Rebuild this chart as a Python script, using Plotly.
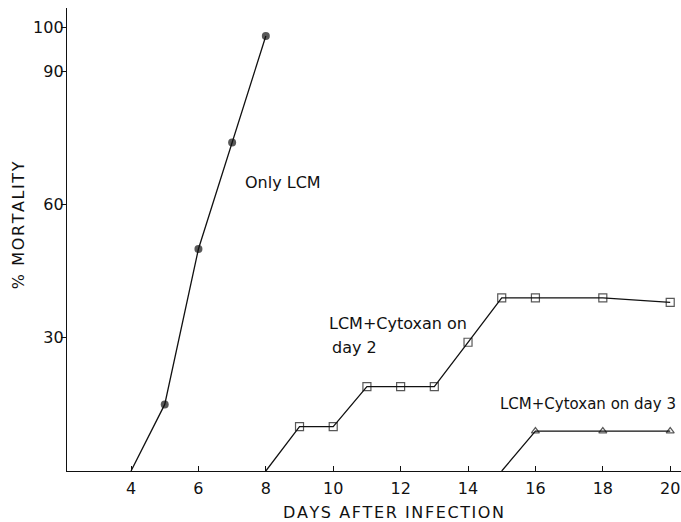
import plotly.graph_objects as go

# Data
days_lcm = [4, 5, 6, 7, 8]
mort_lcm = [0, 15, 50, 74, 98]

days_cy2 = [8, 9, 10, 11, 12, 13, 14, 15, 16, 18, 20]
mort_cy2 = [0, 10, 10, 19, 19, 19, 29, 39, 39, 39, 38]

days_cy3 = [15, 16, 18, 20]
mort_cy3 = [0, 9, 9, 9]

x_ticks = [4, 6, 8, 10, 12, 14, 16, 18, 20]
y_ticks = [30, 60, 90, 100]

FONT = "DejaVu Sans"
INK = "#111111"
HS = "\u200a"


def spaced(s):
    return HS.join(list(s))


fig = go.Figure()

fig.add_trace(go.Scatter(
    x=days_lcm, y=mort_lcm, mode="lines+markers",
    line=dict(color=INK, width=1.3),
    marker=dict(symbol="circle", size=[0] + [8] * (len(days_lcm) - 1), color=INK,
                line=dict(color=INK, width=0)),
    cliponaxis=False, showlegend=False))

fig.add_trace(go.Scatter(
    x=days_cy2, y=mort_cy2, mode="lines+markers",
    line=dict(color=INK, width=1.3),
    marker=dict(symbol="square-open", size=[0] + [8] * (len(days_cy2) - 1),
                color=INK, line=dict(color=INK, width=1.2)),
    cliponaxis=False, showlegend=False))

fig.add_trace(go.Scatter(
    x=days_cy3, y=mort_cy3, mode="lines+markers",
    line=dict(color=INK, width=1.3),
    marker=dict(symbol="triangle-up-open", size=[0] + [7] * (len(days_cy3) - 1),
                color=INK, line=dict(color=INK, width=1.2)),
    cliponaxis=False, showlegend=False))

tfont = dict(family=FONT, size=16, color=INK)
kfont = dict(family=FONT, size=16, color=INK)

annots = [
    dict(x=7.32, y=65, text="Only LCM", size=16),
    dict(x=9.82, y=33.3, text="LCM+Cytoxan on", size=16),
    dict(x=9.9, y=27.9, text="day 2", size=16),
    dict(x=14.9, y=15.1, text="LCM+Cytoxan on day 3", size=15),
]
for a in annots:
    fig.add_annotation(x=a["x"], y=a["y"], text=a["text"], showarrow=False,
                       xanchor="left", yanchor="middle",
                       font=dict(family=FONT, size=a["size"], color=INK))

# axis titles as annotations
fig.add_annotation(xref="paper", yref="paper", x=0.531, y=0, yshift=-41,
                   text=spaced("DAYS AFTER INFECTION"), showarrow=False,
                   xanchor="center", yanchor="middle", font=tfont)
fig.add_annotation(xref="paper", yref="paper", x=0, xshift=-49, y=0.531,
                   text=spaced("% MORTALITY"), showarrow=False, textangle=-90,
                   xanchor="center", yanchor="middle", font=tfont)

fig.update_layout(
    width=681, height=522,
    margin=dict(l=67, r=0, t=8, b=51),
    paper_bgcolor="white", plot_bgcolor="white",
    font=tfont,
    xaxis=dict(
        range=[2.1, 20.32], tickvals=x_ticks, ticktext=[str(v) for v in x_ticks],
        showline=True, linecolor=INK, linewidth=1.3, showgrid=False, zeroline=False,
        ticks="inside", ticklen=5, tickcolor=INK, tickwidth=1,
        tickfont=kfont, ticklabelstandoff=3, ticklabeloverflow="allow",
    ),
    yaxis=dict(
        range=[0, 104.3], tickvals=y_ticks, ticktext=[str(v) for v in y_ticks],
        showline=True, linecolor=INK, linewidth=1.3, showgrid=False, zeroline=False,
        ticks="outside", ticklen=5, tickcolor=INK, tickwidth=1,
        tickfont=kfont, ticklabelstandoff=-6,
    ),
)

fig.write_html("out.html")
